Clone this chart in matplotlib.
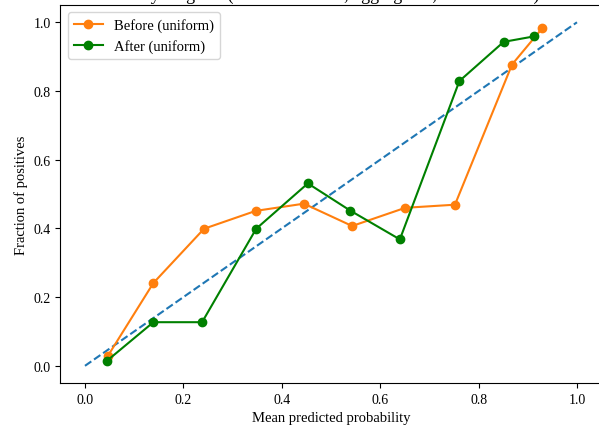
import numpy as np
import matplotlib
matplotlib.use("Agg")
import matplotlib.pyplot as plt

plt.rcParams['font.family'] = ['Liberation Serif', 'DejaVu Serif']

## -----------------------------------------------
# data
## -----------------------------------------------
before_x = [0.047, 0.139, 0.242, 0.347, 0.445, 0.543, 0.651, 0.752, 0.868, 0.929]
before_y = [0.030, 0.241, 0.399, 0.451, 0.472, 0.407, 0.460, 0.469, 0.877, 0.982]

after_x = [0.045, 0.139, 0.238, 0.348, 0.453, 0.539, 0.640, 0.761, 0.851, 0.913]
after_y = [0.015, 0.127, 0.127, 0.399, 0.531, 0.452, 0.368, 0.829, 0.943, 0.959]

diag = [0.0, 1.0]
title = "Reliability diagram (Before vs After, aggregated, uniform bins)"

## -----------------------------------------------
# plot
## -----------------------------------------------
fig = plt.figure(figsize=(5.99, 4.27), dpi=100)
ax = fig.add_axes([0.1008, 0.1007, 0.9035, 0.885])

ax.plot(diag, diag, '--', color='C0', linewidth=1.5)
ax.plot(before_x, before_y, marker='o', color='C1', linewidth=1.5, markersize=6, label='Before (uniform)')
ax.plot(after_x, after_y, marker='o', color='green', linewidth=1.5, markersize=6, label='After (uniform)')

ax.set_xlim(-0.05, 1.05)
ax.set_ylim(-0.05, 1.05)
ax.set_xticks(np.arange(0, 1.01, 0.2))
ax.set_yticks(np.arange(0, 1.01, 0.2))
ax.tick_params(labelsize=10)
ax.set_xlabel('Mean predicted probability', fontsize=10.5)
ax.set_ylabel('Fraction of positives', fontsize=10.5)
ax.legend(loc='upper left', fontsize=10.5)

# title sits mostly above the visible area, as in the cropped reference
fig.text(0.52, 1 + 0.5 / 427, title, ha='center', va='baseline', fontsize=13)

fig.savefig('out.png', dpi=100)
